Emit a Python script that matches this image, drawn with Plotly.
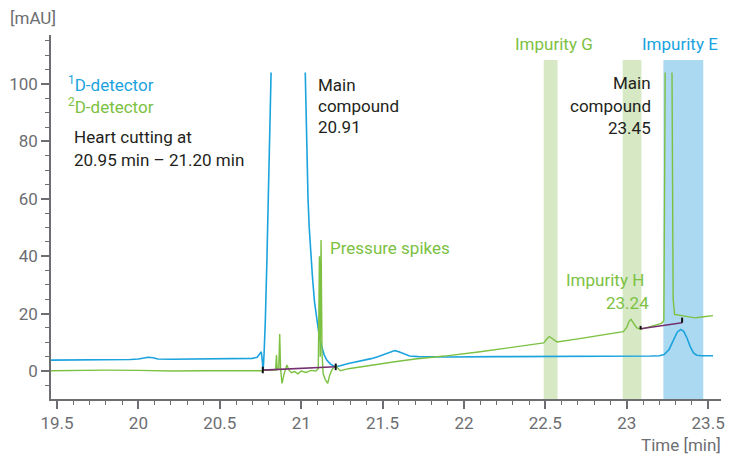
import plotly.graph_objects as go

# ---- chromatogram data (time in min, absorbance in mAU) ----
# 1D detector (blue); the main peak runs off the top and is drawn as two flanks
d1_time = [19.463, 19.6, 19.8, 19.95, 20.0, 20.03, 20.06, 20.09, 20.12, 20.2, 20.4, 20.6,
           20.70, 20.73, 20.745, 20.755, 20.762, 20.766, 20.772, 20.78, 20.79, 20.80, 20.81, 20.815,
           None,
           21.025, 21.03, 21.035, 21.042, 21.049, 21.058, 21.069, 21.082, 21.096, 21.11, 21.126,
           21.14, 21.157, 21.18, 21.208, 21.24, 21.29, 21.37, 21.43, 21.47, 21.52, 21.55, 21.575,
           21.60, 21.63, 21.666, 21.72, 21.9, 22.2, 22.5, 22.8, 23.0, 23.15, 23.2, 23.23, 23.26,
           23.29, 23.31, 23.331, 23.35, 23.37, 23.39, 23.41, 23.43, 23.46, 23.53]
d1_mau = [3.8, 3.8, 3.9, 4.0, 4.2, 4.6, 4.8, 4.6, 4.2, 4.1, 4.2, 4.3,
          4.4, 4.8, 5.8, 6.7, 3.0, 0.0, 6.0, 18.0, 40.0, 62.0, 88.0, 104.0,
          None,
          104.0, 88.0, 73.5, 60.0, 50.3, 41.0, 32.9, 24.0, 17.8, 12.5, 8.5,
          5.8, 3.8, 2.4, 1.5, 1.8, 2.6, 3.5, 4.3, 5.0, 6.0, 6.8, 7.1,
          6.7, 5.9, 5.2, 5.0, 4.9, 5.0, 5.0, 5.1, 5.1, 5.2, 5.3, 5.7, 7.5,
          11.0, 13.5, 14.5, 13.8, 11.5, 8.5, 6.3, 5.5, 5.3, 5.3]

# 2D detector (green); the 23.25 min peak is cut at the top as well
d2_time = [19.463, 19.6, 19.8, 20.0, 20.2, 20.4, 20.6, 20.74, 20.76, 20.78, 20.80, 20.83,
           20.843, 20.848, 20.853, 20.862, 20.868, 20.873, 20.882, 20.895, 20.912, 20.925, 20.94,
           20.96, 20.98, 21.00, 21.03, 21.06, 21.09, 21.105, 21.112, 21.117, 21.122, 21.128,
           21.135, 21.148, 21.163, 21.175, 21.188, 21.205, 21.212, 21.225, 21.24, 21.29, 21.37,
           21.45, 21.575, 21.7, 21.88, 22.1, 22.327, 22.45, 22.49, 22.51, 22.525, 22.54, 22.572,
           22.7, 22.85, 22.979, 23.0, 23.015, 23.026, 23.04, 23.06, 23.085, 23.12, 23.17, 23.213,
           23.228, 23.233, 23.236,
           None,
           23.278, 23.28, 23.285, 23.294, 23.34, 23.38, 23.42, 23.46, 23.5, 23.53]
d2_mau = [0.1, 0.2, 0.3, 0.2, 0.0, 0.1, 0.1, 0.2, 0.1, 0.4, 0.2, 0.3,
          0.3, 5.6, 0.5, 0.6, 12.9, 1.0, -4.3, -1.0, 2.1, 0.3, -0.6,
          -0.2, -1.0, 0.0, -0.5, 0.2, 0.0, 0.8, 40.0, 5.0, 45.6, 6.0,
          -1.0, -3.0, -4.3, -1.5, 0.3, 1.6, 2.0, 1.0, 0.1, 0.8, 1.5,
          2.3, 3.2, 4.2, 5.2, 6.7, 8.4, 9.3, 9.8, 11.2, 12.0, 11.4, 10.1,
          11.2, 12.6, 13.7, 15.2, 17.4, 18.0, 16.8, 15.1, 14.5, 15.1, 15.8, 16.6,
          17.5, 60.0, 104.0,
          None,
          104.0, 60.0, 25.0, 19.7, 19.2, 18.9, 18.5, 18.8, 19.1, 19.3]

# integration baselines: (start time, start mAU, end time, end mAU)
baseline_t0 = [20.764, 23.085]
baseline_v0 = [0.3, 14.7]
baseline_t1 = [21.212, 23.34]
baseline_v1 = [1.5, 16.8]
# integration event markers: time, lower mAU, upper mAU
event_t = [20.764, 21.212, 23.085, 23.34]
event_lo = [-0.8, 0.3, 14.5, 16.8]
event_hi = [1.5, 2.6, 15.7, 18.6]

# heart-cut windows: start, end, colour key
window_start = [22.49, 22.975, 23.225]
window_end = [22.575, 23.09, 23.47]
window_kind = ["2D", "2D", "1D"]
window_top = 108.4

X_RANGE = [19.463, 23.579]
Y_RANGE = [-9.76, 117.07]
x_ticks = [19.5, 20, 20.5, 21, 21.5, 22, 22.5, 23, 23.5]
y_ticks = [0, 20, 40, 60, 80, 100]

BLUE = "#1ba3de"
GREEN = "#7cc142"
BAND = {"2D": "#d6e8c4", "1D": "#acd9f2"}
PURPLE = "#74306e"
GRAY = "#6d6e71"
INK = "#231f20"
FONT = "Roboto, Arial, sans-serif"
SIZE = 17

fig = go.Figure()

for t0, t1, kind in zip(window_start, window_end, window_kind):
    fig.add_shape(type="rect", xref="x", yref="y", x0=t0, x1=t1, y0=Y_RANGE[0], y1=window_top,
                  fillcolor=BAND[kind], line_width=0, layer="below")

fig.add_trace(go.Scatter(x=d1_time, y=d1_mau, mode="lines", line=dict(color=BLUE, width=1.6),
                         connectgaps=False, hoverinfo="skip"))
fig.add_trace(go.Scatter(x=d2_time, y=d2_mau, mode="lines", line=dict(color=GREEN, width=1.4),
                         connectgaps=False, hoverinfo="skip"))

for a, b, c, d in zip(baseline_t0, baseline_v0, baseline_t1, baseline_v1):
    fig.add_trace(go.Scatter(x=[a, c], y=[b, d], mode="lines",
                             line=dict(color=PURPLE, width=1.6), hoverinfo="skip"))
for t, lo, hi in zip(event_t, event_lo, event_hi):
    fig.add_trace(go.Scatter(x=[t, t], y=[lo, hi], mode="lines",
                             line=dict(color="#111111", width=2), hoverinfo="skip"))


def label(text, x, y, color=INK, anchor="left", xref="x", yref="y", size=SIZE):
    fig.add_annotation(text=text, x=x, y=y, xref=xref, yref=yref, showarrow=False,
                       xanchor=anchor, yanchor="middle",
                       font=dict(family=FONT, size=size, color=color))


label("<sup>1</sup>D-detector", 19.555, 100.0, BLUE)
label("<sup>2</sup>D-detector", 19.555, 92.3, GREEN)
label("Heart cutting at", 19.592, 81.5)
label("20.95 min \u2013 21.20 min", 19.592, 73.5)
label("Main", 21.094, 99.7)
label("compound", 21.094, 92.3)
label("20.91", 21.094, 85.0)
label("Pressure spikes", 21.167, 42.9, GREEN)
label("Impurity G", 22.555, 113.9, GREEN, anchor="center")
label("Impurity E", 23.33, 113.9, BLUE, anchor="center")
label("Main", 23.164, 100.3, anchor="right")
label("compound", 23.164, 92.3, anchor="right")
label("23.45", 23.164, 84.7, anchor="right")
label("Impurity H", 23.121, 31.7, GREEN, anchor="right")
label("23.24", 23.146, 23.7, GREEN, anchor="right")
label("[mAU]", -0.0638, 1.0467, GRAY, xref="paper", yref="paper")
label("Time [min]", 1.003, -0.1264, GRAY, anchor="right", xref="paper", yref="paper")

axis_common = dict(showgrid=False, zeroline=False, showline=True, linecolor=GRAY, linewidth=1.5,
                   ticks="outside", ticklen=8, tickwidth=1.5, tickcolor=GRAY,
                   tickfont=dict(family=FONT, size=SIZE, color=GRAY))

fig.update_xaxes(range=X_RANGE, tickmode="array", tickvals=x_ticks, ticklabelstandoff=0,
                 minor=dict(tickmode="linear", tick0=19.5, dtick=0.1, ticks="outside",
                            ticklen=4, tickwidth=1.2, tickcolor=GRAY),
                 **axis_common)
fig.update_yaxes(range=Y_RANGE, tickmode="array", tickvals=y_ticks,
                 minor=dict(tickmode="linear", tick0=0, dtick=5, ticks="outside",
                            ticklen=4, tickwidth=1.2, tickcolor=GRAY),
                 **axis_common)

fig.update_layout(width=729, height=459, margin=dict(l=51, r=4, t=35, b=60),
                  paper_bgcolor="white", plot_bgcolor="white", showlegend=False)

fig.write_html("out.html")
